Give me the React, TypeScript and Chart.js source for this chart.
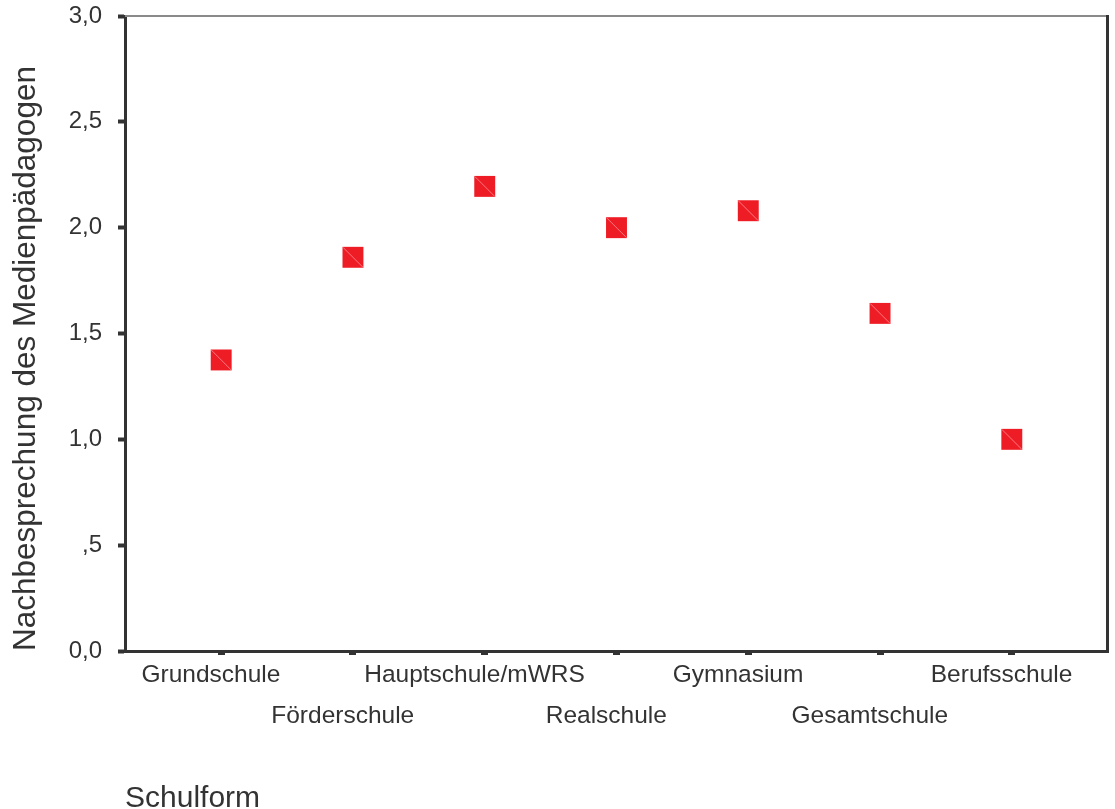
import React, { useEffect, useRef } from "react";
import { Chart, registerables } from "chart.js";

Chart.register(...registerables);

const categories = [
  "Grundschule",
  "Förderschule",
  "Hauptschule/mWRS",
  "Realschule",
  "Gymnasium",
  "Gesamtschule",
  "Berufsschule",
];
const values = [1.375, 1.86, 2.195, 2.0, 2.08, 1.595, 1.0];
const yTicks = [0, 0.5, 1, 1.5, 2, 2.5, 3];
const yTickLabels = ["0,0", ",5", "1,0", "1,5", "2,0", "2,5", "3,0"];
const yTitle = "Nachbesprechung des Medienpädagogen";
const xTitle = "Schulform";

const FONT = "'Liberation Sans', Arial, sans-serif";
const TEXT = "#333333";
const AXIS = "#333333";

const framePlugin = {
  id: "frame",
  afterDatasetsDraw(chart: any) {
    const ctx = chart.ctx;
    const meta = chart.getDatasetMeta(0);
    ctx.save();
    ctx.strokeStyle = "rgba(255,130,140,0.9)";
    ctx.lineWidth = 1;
    meta.data.forEach((pt: any) => {
      const s = 10;
      ctx.beginPath();
      ctx.moveTo(pt.x - s, pt.y - s);
      ctx.lineTo(pt.x + s, pt.y + s);
      ctx.stroke();
    });
    ctx.restore();
  },
  afterDraw(chart: any) {
    const { ctx, chartArea } = chart;
    ctx.save();
    ctx.strokeStyle = "#8a8a8a";
    ctx.lineWidth = 2;
    ctx.beginPath();
    ctx.moveTo(chartArea.left, chartArea.top);
    ctx.lineTo(chartArea.right, chartArea.top);
    ctx.stroke();
    ctx.strokeStyle = AXIS;
    ctx.lineWidth = 3;
    ctx.beginPath();
    ctx.moveTo(chartArea.right - 0.5, chartArea.top - 1);
    ctx.lineTo(chartArea.right - 0.5, chartArea.bottom);
    ctx.stroke();
    ctx.restore();
  },
};

export default function App() {
  const ref = useRef<HTMLCanvasElement | null>(null);

  useEffect(() => {
    document.body.style.margin = "0";
    if (!ref.current) return;
    const chart = new Chart(ref.current, {
      type: "scatter",
      data: {
        datasets: [
          {
            data: values.map((v, i) => ({ x: i, y: v })),
            pointStyle: "rect",
            pointRadius: 14.8,
            pointHoverRadius: 14.8,
            backgroundColor: "#ee1c25",
            borderWidth: 0,
          },
        ],
      },
      options: {
        animation: false,
        responsive: true,
        maintainAspectRatio: false,
        layout: {
          autoPadding: false,
          padding: { top: 16, right: 7, left: 0, bottom: 0 },
        },
        plugins: {
          legend: { display: false },
          tooltip: { enabled: false },
        },
        scales: {
          x: {
            type: "linear",
            min: -0.73,
            max: 6.73,
            afterBuildTicks: (axis: any) => {
              axis.ticks = categories.map((_, i) => ({ value: i }));
            },
            afterFit: (axis: any) => {
              axis.height = 158;
              axis.paddingLeft = 0;
              axis.paddingRight = 0;
            },
            grid: {
              drawOnChartArea: false,
              drawTicks: true,
              tickLength: 4,
              tickWidth: 7,
              tickColor: AXIS,
            },
            border: { display: true, color: AXIS, width: 3 },
            ticks: {
              autoSkip: false,
              maxRotation: 0,
              padding: 0,
              color: TEXT,
              font: { family: FONT, size: 24.5, lineHeight: 1.67 },
              callback: (v: any) => {
                const i = Math.round(Number(v));
                const name = (categories[i] ?? "") + "   ";
                return i % 2 === 0 ? [name] : ["", name];
              },
            },
            title: {
              display: true,
              text: xTitle,
              align: "start",
              color: TEXT,
              font: { family: FONT, size: 30, lineHeight: 0.7 },
              padding: { top: 0, bottom: 0 },
            },
          },
          y: {
            min: 0,
            max: 3,
            afterBuildTicks: (axis: any) => {
              axis.ticks = yTicks.map((v) => ({ value: v }));
            },
            afterFit: (axis: any) => {
              axis.width = 125;
              axis.paddingTop = 0;
              axis.paddingBottom = 0;
            },
            grid: {
              drawOnChartArea: false,
              drawTicks: true,
              tickLength: 7,
              tickWidth: 4,
              tickColor: AXIS,
            },
            border: { display: true, color: AXIS, width: 3 },
            ticks: {
              padding: 16,
              color: TEXT,
              font: { family: FONT, size: 24 },
              callback: (v: any) => {
                const idx = yTicks.indexOf(Number(v));
                return idx >= 0 ? yTickLabels[idx] : "";
              },
            },
            title: {
              display: true,
              text: yTitle,
              align: "start",
              color: TEXT,
              font: { family: FONT, size: 31.5, lineHeight: 1 },
              padding: { top: 11, bottom: 0 },
            },
          },
        },
      },
      plugins: [framePlugin],
    });
    return () => chart.destroy();
  }, []);

  return (
    <div style={{ width: "1115px", height: "809px", position: "relative" }}>
      <canvas ref={ref} />
    </div>
  );
}
